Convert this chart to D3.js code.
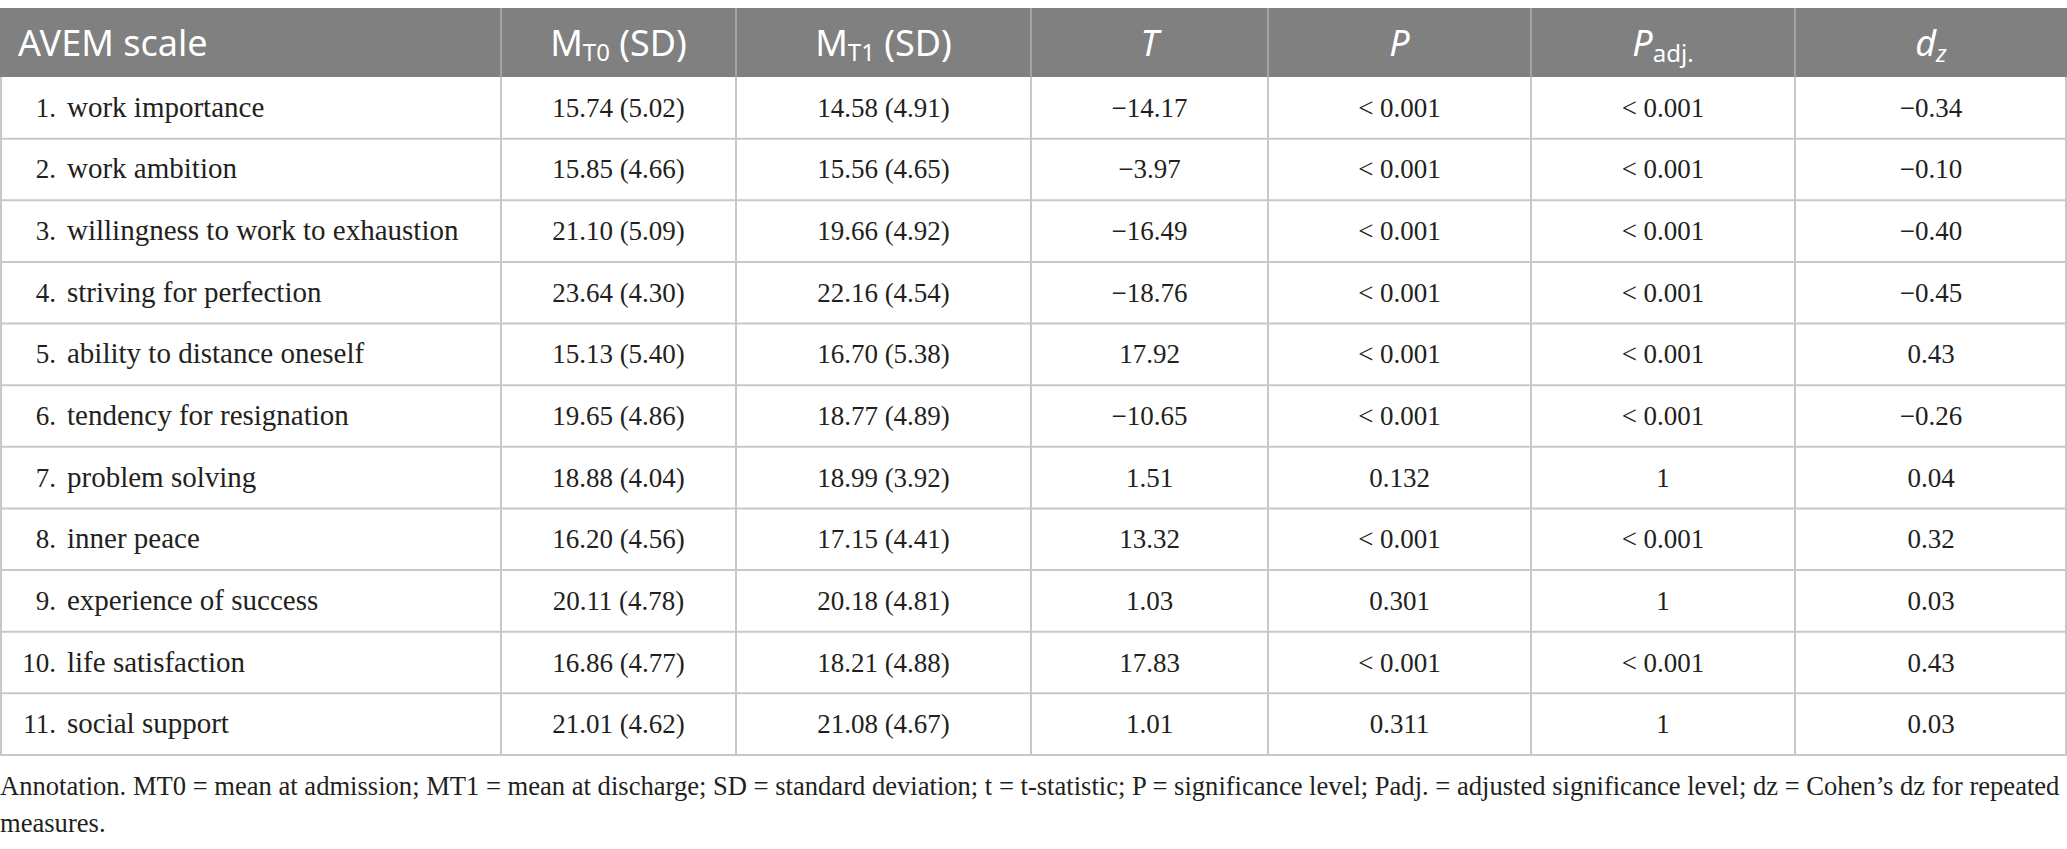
<!DOCTYPE html>
<html>
<head>
  <meta charset="utf-8">
  <script src="https://cdn.jsdelivr.net/npm/d3@7"></script>
  <style>
    body { margin: 0; background: #fff; }
    svg { display: block; }
  </style>
</head>
<body>
  <svg id="chart" width="2067" height="849"></svg>
  <script>
    // table content
    var scales = ["work importance", "work ambition", "willingness to work to exhaustion",
      "striving for perfection", "ability to distance oneself", "tendency for resignation",
      "problem solving", "inner peace", "experience of success", "life satisfaction", "social support"];
    var meanT0 = [15.74, 15.85, 21.10, 23.64, 15.13, 19.65, 18.88, 16.20, 20.11, 16.86, 21.01];
    var sdT0   = [5.02, 4.66, 5.09, 4.30, 5.40, 4.86, 4.04, 4.56, 4.78, 4.77, 4.62];
    var meanT1 = [14.58, 15.56, 19.66, 22.16, 16.70, 18.77, 18.99, 17.15, 20.18, 18.21, 21.08];
    var sdT1   = [4.91, 4.65, 4.92, 4.54, 5.38, 4.89, 3.92, 4.41, 4.81, 4.88, 4.67];
    var tStat  = [-14.17, -3.97, -16.49, -18.76, 17.92, -10.65, 1.51, 13.32, 1.03, 17.83, 1.01];
    var pVal   = ["< 0.001", "< 0.001", "< 0.001", "< 0.001", "< 0.001", "< 0.001", "0.132", "< 0.001", "0.301", "< 0.001", "0.311"];
    var pAdj   = ["< 0.001", "< 0.001", "< 0.001", "< 0.001", "< 0.001", "< 0.001", "1", "< 0.001", "1", "< 0.001", "1"];
    var dz     = [-0.34, -0.10, -0.40, -0.45, 0.43, -0.26, 0.04, 0.32, 0.03, 0.43, 0.03];
    var note = ["Annotation. MT0 = mean at admission; MT1 = mean at discharge; SD = standard deviation; t = t-statistic; P = significance level; Padj. = adjusted significance level; dz = Cohen\u2019s dz for repeated",
      "measures."];

    var svg = d3.select("#chart");
    var W = 2067, tableTop = 8, headH = 69, tableBottom = 755;
    var colW = [501, 235, 295, 237, 263, 264, 272];
    var edges = [0].concat(Array.from(d3.cumsum(colW)));

    // minus sign like the print version
    var num = function(v) { return d3.format(".2f")(v).replace("-", "\u2212"); };

    var rows = scales.map(function(s, i) {
      return [s, num(meanT0[i]) + " (" + num(sdT0[i]) + ")", num(meanT1[i]) + " (" + num(sdT1[i]) + ")",
        num(tStat[i]), pVal[i], pAdj[i], num(dz[i])];
    });

    var y = d3.scaleBand().domain(d3.range(scales.length)).range([tableTop + headH, tableBottom]);
    var x = d3.scaleOrdinal().domain(d3.range(colW.length)).range(edges.slice(0, -1));
    var mid = function(j) { return x(j) + colW[j] / 2; };

    // header
    svg.append("rect").attr("x", 0).attr("y", tableTop).attr("width", W).attr("height", headH).attr("fill", "#808080");
    svg.selectAll(".hsep").data(edges.slice(1, -1)).enter().append("line")
      .attr("x1", function(d) { return d; }).attr("x2", function(d) { return d; })
      .attr("y1", tableTop).attr("y2", tableTop + headH)
      .attr("stroke", "#a3a3a3").attr("stroke-width", 2);

    var head = svg.append("g").attr("font-family", "'Noto Sans', sans-serif").attr("font-size", 36).attr("fill", "#fff");
    var hy = tableTop + headH / 2 + 13;
    head.append("text").attr("x", 18).attr("y", hy).text("AVEM scale");
    [1, 2].forEach(function(j) {
      var t = head.append("text").attr("x", mid(j)).attr("y", hy).attr("text-anchor", "middle");
      t.append("tspan").text("M");
      t.append("tspan").attr("font-size", 24).attr("dy", 5).text(j == 1 ? "T0" : "T1");
      t.append("tspan").attr("dy", -5).text(" (SD)");
    });
    head.append("text").attr("x", mid(3)).attr("y", hy).attr("text-anchor", "middle").attr("font-style", "italic").text("T");
    head.append("text").attr("x", mid(4)).attr("y", hy).attr("text-anchor", "middle").attr("font-style", "italic").text("P");
    var pa = head.append("text").attr("x", mid(5)).attr("y", hy).attr("text-anchor", "middle");
    pa.append("tspan").attr("font-style", "italic").text("P");
    pa.append("tspan").attr("font-size", 24).attr("dy", 6).text("adj.");
    var dzh = head.append("text").attr("x", mid(6)).attr("y", hy).attr("text-anchor", "middle").attr("font-style", "italic");
    dzh.append("tspan").text("d");
    dzh.append("tspan").attr("font-size", 24).attr("dy", 6).text("z");

    // grid
    var grid = svg.append("g").attr("stroke", "#c8c8c8").attr("stroke-width", 2);
    grid.selectAll(".h").data(d3.range(1, scales.length + 1)).enter().append("line")
      .attr("x1", 0).attr("x2", W)
      .attr("y1", function(i) { return i == scales.length ? tableBottom : y(i); })
      .attr("y2", function(i) { return i == scales.length ? tableBottom : y(i); });
    grid.selectAll(".v").data(edges).enter().append("line")
      .attr("x1", function(d) { return Math.min(Math.max(d, 1), W - 1); })
      .attr("x2", function(d) { return Math.min(Math.max(d, 1), W - 1); })
      .attr("y1", tableTop + headH).attr("y2", tableBottom);

    // body
    var body = svg.append("g").attr("font-family", "'Liberation Serif', serif").attr("font-size", 27).attr("fill", "#231f20");
    var row = body.selectAll(".row").data(rows).enter().append("g")
      .attr("transform", function(d, i) { return "translate(0," + (y(i) + y.bandwidth() / 2 + 9) + ")"; });
    row.append("text").attr("x", 56).attr("text-anchor", "end").text(function(d, i) { return (i + 1) + "."; });
    row.append("text").attr("x", 67).attr("font-size", 29).text(function(d) { return d[0]; });
    row.selectAll(".cell").data(function(d) { return d.slice(1); }).enter().append("text")
      .attr("x", function(d, j) { return mid(j + 1); }).attr("text-anchor", "middle")
      .text(function(d) { return d; });

    // annotation, shrunk so the first line fits the width like the print
    var ann = svg.append("g").attr("font-family", "'Liberation Serif', serif").attr("font-size", 27).attr("fill", "#231f20");
    ann.selectAll("text").data(note).enter().append("text")
      .attr("x", 0).attr("y", function(d, i) { return 795 + i * 37; })
      .text(function(d) { return d; });
    var len = ann.select("text").node().getComputedTextLength();
    if (len > 2060) ann.attr("font-size", 27 * 2060 / len);
  </script>
</body>
</html>
